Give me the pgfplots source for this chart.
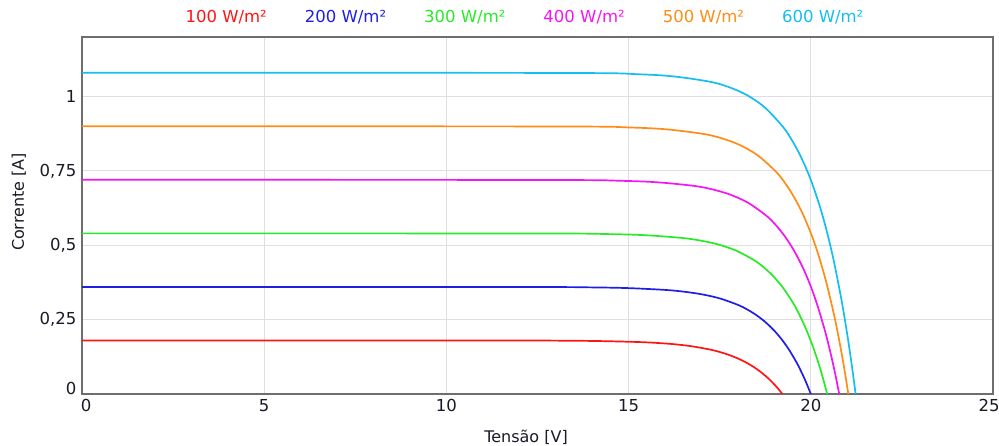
\documentclass[border=0pt]{standalone}
\usepackage{fontspec}
\setmainfont{DejaVu Sans}
\usepackage{pgfplots}
\pgfplotsset{compat=1.18}
\definecolor{c1}{RGB}{255,20,20}
\definecolor{c2}{RGB}{30,30,230}
\definecolor{c3}{RGB}{40,235,40}
\definecolor{c4}{RGB}{245,20,245}
\definecolor{c5}{RGB}{255,140,20}
\definecolor{c6}{RGB}{20,190,240}
\definecolor{frame}{RGB}{110,110,110}
\definecolor{txt}{RGB}{25,25,40}
\begin{document}
\fontsize{16.5}{19}\selectfont
\begin{tikzpicture}
\begin{axis}[
  name=ax,
  width=911pt, height=357pt, scale only axis,
  xmin=0, xmax=25, ymin=0, ymax=1.2,
  xtick={0,5,10,15,20,25},
  xticklabels={{0\hspace*{-8pt}},5,10,15,20,{\hspace*{-8pt}25}},
  ytick={0,0.25,0.5,0.75,1},
  yticklabels={\raisebox{12pt}{0},{0,25},{0,5},{0,75},1},
  /pgf/number format/assume math mode=true,
  tick label style={font=\fontsize{16.5}{19}\selectfont, text=txt},
  major tick length=0pt,
  grid=major,
  major grid style={color=gray!25, line width=0.8pt},
  axis line style={color=frame, line width=1.4pt},
  xlabel={Tensão [V]},
  ylabel={Corrente [A]},
  label style={font=\fontsize{16}{19}\selectfont, text=txt},
  xlabel style={at={(axis description cs:0.4874,-0.1204)}, anchor=center},
  ylabel style={at={(axis description cs:-0.0692,0.538)}, anchor=center},
  legend columns=6,
  legend image code/.code={},
  legend style={draw=none, fill=none, font=\fontsize{16.5}{19}\selectfont,
    at={(axis description cs:0.4857,1.053)}, anchor=center,
    /tikz/every even column/.append style={column sep=34pt}},
  every axis plot/.append style={line width=1.7pt, smooth, tension=0.5},
]
\addplot[c1] coordinates {
(0,0.18) (11.22,0.1799) (13.22,0.1792) (14.22,0.1779) (15.22,0.1749) (15.72,0.1721)
(16.22,0.1677) (16.72,0.1607) (17.22,0.1498) (17.47,0.1423) (17.72,0.1328)
(17.97,0.1210) (18.22,0.1063) (18.42,0.0919) (18.62,0.0746) (18.82,0.0541)
(18.92,0.0423) (19.02,0.0294) (19.12,0.0154) (19.22,0)};
\addlegendentry{\textcolor{c1}{100 W/m²}}
\addplot[c2] coordinates {
(0,0.36) (12.0,0.3597) (14.0,0.3583) (15.0,0.3559) (16.0,0.3499) (16.5,0.3442)
(17.0,0.3353) (17.5,0.3214) (18.0,0.2996) (18.25,0.2845) (18.5,0.2656)
(18.75,0.2421) (19.0,0.2126) (19.2,0.1838) (19.4,0.1493) (19.6,0.1081)
(19.7,0.0846) (19.8,0.0589) (19.9,0.0307) (20.0,0)};
\addlegendentry{\textcolor{c2}{200 W/m²}}
\addplot[c3] coordinates {
(0,0.54) (12.45,0.5396) (14.45,0.5375) (15.45,0.5338) (16.45,0.5248) (16.95,0.5163)
(17.45,0.5030) (17.95,0.4821) (18.45,0.4494) (18.70,0.4268) (18.95,0.3985)
(19.20,0.3631) (19.45,0.3189) (19.65,0.2757) (19.85,0.2239) (20.05,0.1622)
(20.15,0.1268) (20.25,0.0883) (20.35,0.0461) (20.45,0)};
\addlegendentry{\textcolor{c3}{300 W/m²}}
\addplot[c4] coordinates {
(0,0.72) (12.78,0.7194) (14.78,0.7166) (15.78,0.7117) (16.78,0.6998) (17.28,0.6884)
(17.78,0.6706) (18.28,0.6427) (18.78,0.5993) (19.03,0.5691) (19.28,0.5313)
(19.53,0.4841) (19.78,0.4252) (19.98,0.3676) (20.18,0.2986) (20.38,0.2162)
(20.48,0.1691) (20.58,0.1177) (20.68,0.0615) (20.78,0)};
\addlegendentry{\textcolor{c4}{400 W/m²}}
\addplot[c5] coordinates {
(0,0.90) (13.03,0.8993) (15.03,0.8958) (16.03,0.8897) (17.03,0.8747) (17.53,0.8605)
(18.03,0.8383) (18.53,0.8034) (19.03,0.7491) (19.28,0.7114) (19.53,0.6641)
(19.78,0.6052) (20.03,0.5315) (20.23,0.4595) (20.43,0.3732) (20.63,0.2703)
(20.73,0.2114) (20.83,0.1472) (20.93,0.0769) (21.03,0)};
\addlegendentry{\textcolor{c5}{500 W/m²}}
\addplot[c6] coordinates {
(0,1.08) (13.23,1.0791) (15.23,1.0749) (16.23,1.0676) (17.23,1.0497) (17.73,1.0326)
(18.23,1.0059) (18.73,0.9641) (19.23,0.8989) (19.48,0.8536) (19.73,0.7969)
(19.98,0.7262) (20.23,0.6377) (20.43,0.5513) (20.63,0.4479) (20.83,0.3243)
(20.93,0.2537) (21.03,0.1766) (21.13,0.0922) (21.23,0)};
\addlegendentry{\textcolor{c6}{600 W/m²}}
\end{axis}
\pgfresetboundingbox
\path[use as bounding box] ([xshift=-82pt,yshift=-51pt]ax.south west) rectangle ([xshift=6pt,yshift=37pt]ax.north east);
\end{tikzpicture}
\end{document}
